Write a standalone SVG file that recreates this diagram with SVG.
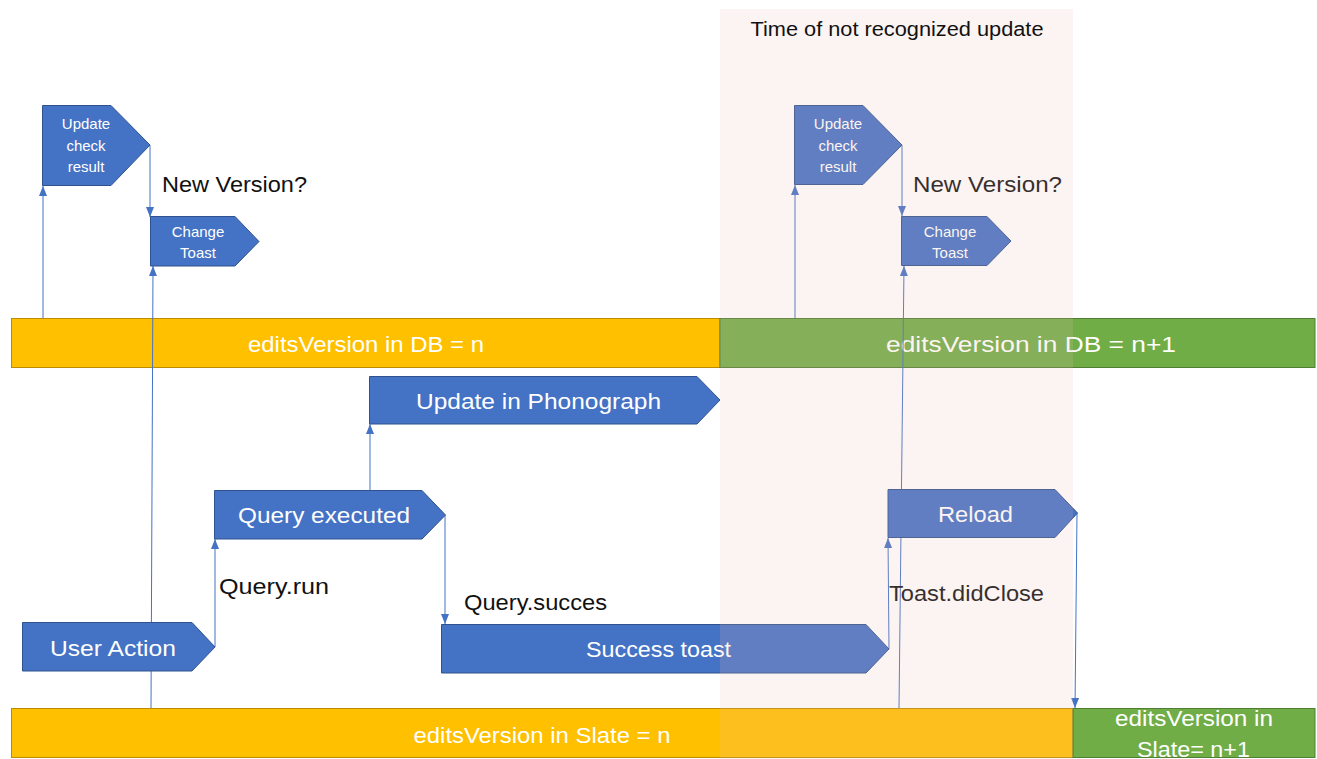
<svg xmlns="http://www.w3.org/2000/svg" width="1317" height="759" viewBox="0 0 1317 759">
  <defs>
    <marker id="arrow" markerUnits="userSpaceOnUse" markerWidth="10" markerHeight="10" viewBox="0 0 10 10" refX="10" refY="5" orient="auto">
      <path d="M0,1 L10,5 L0,9 Z" fill="#4472C4"/>
    </marker>
    <style>
      .bar-orange { fill: #FFC000; stroke: #BC8C00; stroke-width: 1; }
      .bar-green { fill: #70AD47; stroke: #507E32; stroke-width: 1; }
      .step { fill: #4472C4; stroke: #2F528F; stroke-width: 1; }
      .conn { stroke: #4472C4; stroke-width: 1; fill: none; marker-end: url(#arrow); }
      .lbl-w { font-family: "Liberation Sans", Arial, sans-serif; fill: #FFFFFF; text-anchor: middle; }
      .lbl-k { font-family: "Liberation Sans", Arial, sans-serif; fill: #111111; }
      .big { font-size: 22px; }
      .small { font-size: 15px; }
    </style>
  </defs>

  <rect width="1317" height="759" fill="#FFFFFF"/>

  <!-- state bars -->
  <g id="db-n">
    <rect class="bar-orange" x="11.5" y="318.5" width="708.5" height="49"/>
    <text class="lbl-w big" x="366" y="352" textLength="236" lengthAdjust="spacingAndGlyphs">editsVersion in DB = n</text>
  </g>
  <g id="db-n1">
    <rect class="bar-green" x="720" y="318.5" width="595" height="49"/>
    <text class="lbl-w big" x="1031" y="352" textLength="290" lengthAdjust="spacingAndGlyphs">editsVersion in DB = n+1</text>
  </g>
  <g id="slate-n">
    <rect class="bar-orange" x="11.5" y="708.5" width="1061.5" height="49"/>
    <text class="lbl-w big" x="542" y="743" textLength="257" lengthAdjust="spacingAndGlyphs">editsVersion in Slate = n</text>
  </g>
  <g id="slate-n1">
    <rect class="bar-green" x="1073" y="708.5" width="242" height="49"/>
    <text class="lbl-w big" x="1194" y="726" textLength="158" lengthAdjust="spacingAndGlyphs">editsVersion in</text>
    <text class="lbl-w big" x="1193.5" y="757" textLength="113" lengthAdjust="spacingAndGlyphs">Slate= n+1</text>
  </g>

  <!-- connectors -->
  <g id="connectors">
    <line class="conn" x1="43" y1="318" x2="43" y2="186"/>
    <line class="conn" x1="151" y1="708" x2="153" y2="266"/>
    <line class="conn" x1="150" y1="145" x2="150" y2="217"/>
    <line class="conn" x1="795" y1="318" x2="795" y2="185"/>
    <line class="conn" x1="899" y1="708" x2="904" y2="266"/>
    <line class="conn" x1="902" y1="145" x2="902" y2="216"/>
    <line class="conn" x1="215" y1="647" x2="215" y2="539"/>
    <line class="conn" x1="370" y1="490" x2="370" y2="424"/>
    <line class="conn" x1="445" y1="515" x2="445" y2="624"/>
    <line class="conn" x1="889" y1="649" x2="888" y2="538"/>
    <line class="conn" x1="1077" y1="513" x2="1075" y2="708"/>
  </g>

  <!-- connector labels -->
  <g id="labels">
    <text class="lbl-k big" x="162" y="192" textLength="145" lengthAdjust="spacingAndGlyphs">New Version?</text>
    <text class="lbl-k big" x="913" y="192" textLength="149" lengthAdjust="spacingAndGlyphs">New Version?</text>
    <text class="lbl-k big" x="219" y="594" textLength="110" lengthAdjust="spacingAndGlyphs">Query.run</text>
    <text class="lbl-k big" x="464" y="610" textLength="143" lengthAdjust="spacingAndGlyphs">Query.succes</text>
    <text class="lbl-k big" x="889" y="601" textLength="155" lengthAdjust="spacingAndGlyphs">Toast.didClose</text>
  </g>

  <!-- process steps -->
  <g id="update-check-1">
    <path class="step" d="M42.5,105.5 H111 L150,145 L111,185.5 H42.5 Z"/>
    <text class="lbl-w small" x="86" y="129">Update</text>
    <text class="lbl-w small" x="86" y="151">check</text>
    <text class="lbl-w small" x="86" y="172">result</text>
  </g>
  <g id="change-toast-1">
    <path class="step" d="M150.5,216.5 H235 L259,241.5 L235,266 H150.5 Z"/>
    <text class="lbl-w small" x="198" y="237">Change</text>
    <text class="lbl-w small" x="198" y="258">Toast</text>
  </g>
  <g id="update-check-2">
    <path class="step" d="M794.5,105.5 H863 L902,145 L863,184.5 H794.5 Z"/>
    <text class="lbl-w small" x="838" y="129">Update</text>
    <text class="lbl-w small" x="838" y="151">check</text>
    <text class="lbl-w small" x="838" y="172">result</text>
  </g>
  <g id="change-toast-2">
    <path class="step" d="M901.5,216.5 H987 L1011,241 L987,265.5 H901.5 Z"/>
    <text class="lbl-w small" x="950" y="237">Change</text>
    <text class="lbl-w small" x="950" y="258">Toast</text>
  </g>
  <g id="update-phonograph">
    <path class="step" d="M369.5,376.5 H697 L720,400 L697,424 H369.5 Z"/>
    <text class="lbl-w big" x="538.5" y="409" textLength="245" lengthAdjust="spacingAndGlyphs">Update in Phonograph</text>
  </g>
  <g id="query-executed">
    <path class="step" d="M214.5,490.5 H422 L445.5,515 L422,539 H214.5 Z"/>
    <text class="lbl-w big" x="324" y="523" textLength="172" lengthAdjust="spacingAndGlyphs">Query executed</text>
  </g>
  <g id="user-action">
    <path class="step" d="M22.5,622.5 H192 L215,647 L192,671 H22.5 Z"/>
    <text class="lbl-w big" x="113" y="656" textLength="126" lengthAdjust="spacingAndGlyphs">User Action</text>
  </g>
  <g id="success-toast">
    <path class="step" d="M441.5,624.5 H866 L889,649 L866,673 H441.5 Z"/>
    <text class="lbl-w big" x="658.5" y="657" textLength="145" lengthAdjust="spacingAndGlyphs">Success toast</text>
  </g>
  <g id="reload">
    <path class="step" d="M888,489.5 H1055 L1077.5,513 L1055,537.5 H888 Z"/>
    <text class="lbl-w big" x="975.5" y="522" textLength="75" lengthAdjust="spacingAndGlyphs">Reload</text>
  </g>

  <!-- highlighted time window -->
  <g id="unrecognized-window">
    <rect x="720" y="9" width="353" height="750" fill="rgb(236,190,175)" fill-opacity="0.17"/>
    <text class="lbl-k" x="897" y="36" font-size="20" text-anchor="middle" textLength="293" lengthAdjust="spacingAndGlyphs">Time of not recognized update</text>
  </g>
</svg>
